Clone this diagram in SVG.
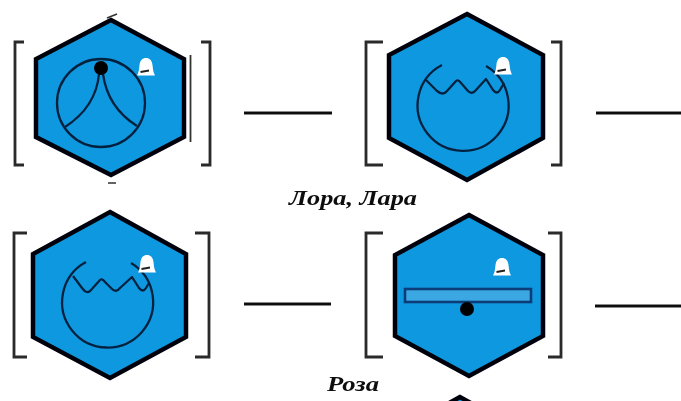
<svg xmlns="http://www.w3.org/2000/svg" width="681" height="401" viewBox="0 0 681 401">
<defs>
<filter id="soft" x="-5%" y="-5%" width="110%" height="110%"><feGaussianBlur stdDeviation="0.6"/></filter>
<g id="bell"><path class="bell" d="M-9 8.500 C-7.500 6 -7 3 -6.500 -2 C-6 -6.500 -3.500 -9 0 -9 C3.500 -9 6 -6.500 6.500 -2 C7 3 7.500 6 9 8.500 Z"/><path class="clap" d="M-5.500 5 L3 3.500"/></g>
</defs>
<style>
.hex{fill:#0d98e0;stroke:#04060a;stroke-width:4.500;stroke-linejoin:miter}
.br{fill:none;stroke:#2c2c2c;stroke-width:2.800}
.ln{fill:none;stroke:#062440;stroke-width:2.300;stroke-linejoin:round}
.conn{fill:none;stroke:#111;stroke-width:3}
.dot{fill:#020305}
.bell{fill:#fff;stroke:none}
.clap{stroke:#222;stroke-width:1.800;fill:none}
.lbl{font-family:"Liberation Serif",serif;font-style:italic;font-weight:bold;fill:#111}
</style>
<rect width="681" height="401" fill="#fff"/>
<g filter="url(#soft)">
<g id="connectors">
<path class="conn" d="M244 113H332"/>
<path class="conn" d="M596 113H681"/>
<path class="conn" d="M244 304H331"/>
<path class="conn" d="M595 306H681"/>
</g>
<g id="node-1">
<path class="br" d="M24 42H15V165H24"/>
<path class="br" d="M201 42H210V165H201"/>
<path d="M190.500 55V142" stroke="#333" stroke-width="1.800" fill="none"/>
<path d="M107 18L117 14M108 183H116" stroke="#333" stroke-width="1.600" fill="none"/>
<polygon class="hex" points="111,20 184,59 184,137 111,175 36,137 36,59"/>
<circle class="ln" cx="101" cy="103" r="44"/>
<path class="ln" d="M99 74C97 96 85 114 65 127"/>
<path class="ln" d="M103 74C106 96 118 114 137 126"/>
<circle class="dot" cx="101" cy="68" r="7"/>
<use href="#bell" x="146" y="67"/>
</g>
<g id="node-2">
<path class="br" d="M383 42H366V165H383"/>
<path class="br" d="M551 42H561V165H551"/>
<polygon class="hex" points="467,14 543,55 543,138 467,180 389,138 389,55"/>
<path class="ln" d="M442 65A45.500 45.500 0 1 0 486 66"/>
<path class="ln" d="M426 80L437 91Q443 96 447 91L456 81Q458 79 461 83L468 91Q472 95 476 90L486 79L493 90Q497 95 500 90L504 83"/>
<use href="#bell" x="503" y="66"/>
</g>
<g id="node-3">
<path class="br" d="M27 233H14V357H27"/>
<path class="br" d="M195 233H209V357H195"/>
<polygon class="hex" points="110,212 186,254 186,337 110,378 33,337 33,254"/>
<path class="ln" d="M86 262A45.500 45.500 0 1 0 131 263"/>
<path class="ln" d="M73 276L82 288Q87 295 91 290L100 280Q102 278 105 282L112 289Q116 293 120 288L132 277L139 288Q143 293 146 288L149 283"/>
<use href="#bell" x="147" y="264"/>
</g>
<g id="node-4">
<path class="br" d="M383 233H366V357H383"/>
<path class="br" d="M548 233H561V357H548"/>
<polygon class="hex" points="469,215 543,255 543,336 469,376 395,336 395,255"/>
<rect x="405" y="289" width="126" height="13" fill="#3ba8e4" stroke="#0b3c78" stroke-width="2.600"/>
<circle class="dot" cx="467" cy="309" r="7"/>
<use href="#bell" x="502" y="267"/>
</g>
<g id="node-5">
<polygon class="hex" points="460,397 442,407 478,407"/>
</g>
<text class="lbl" x="289" y="205" font-size="21" textLength="128" lengthAdjust="spacingAndGlyphs">Лора, Лара</text>
<text class="lbl" x="327" y="391" font-size="21" textLength="52" lengthAdjust="spacingAndGlyphs">Роза</text>
</g>
</svg>
